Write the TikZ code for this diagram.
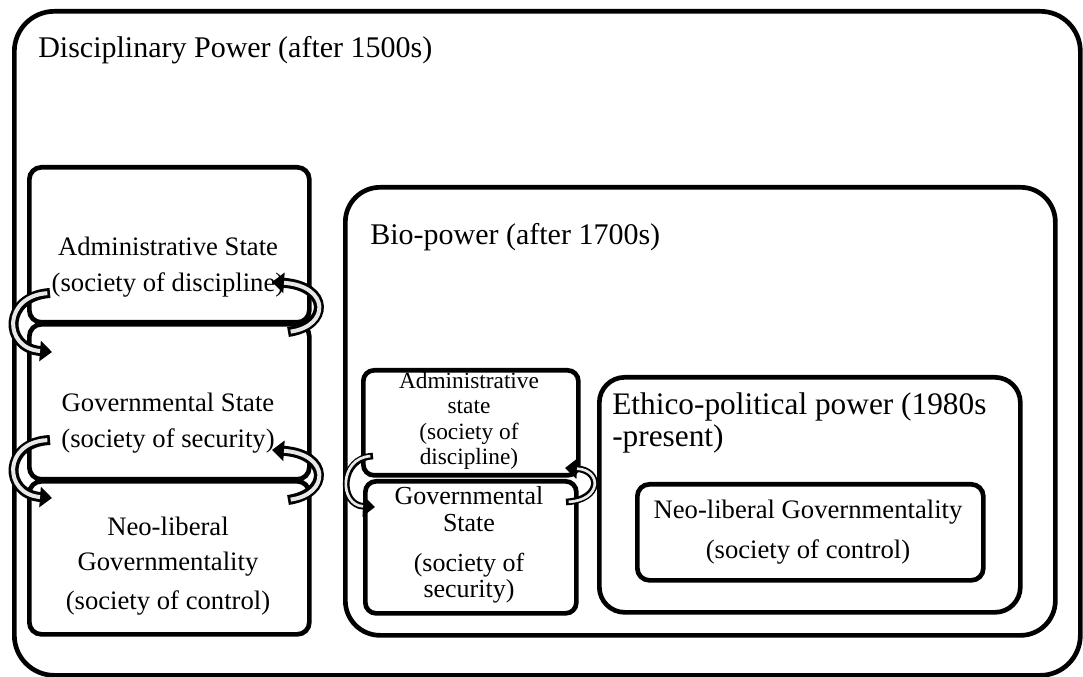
\documentclass[tikz,border=0pt]{standalone}
\usepackage{fontspec}
\setmainfont{Liberation Serif}
\usetikzlibrary{arrows.meta}
\tikzset{
  roundbox/.style={draw, line width=3.5pt, rounded corners=#1, inner sep=0pt, anchor=north west},
  lbl/.style={font=\fontsize{20}{20.5}\selectfont, align=center, inner sep=0pt},
  headlbl/.style={font=\fontsize{22.5}{24}\selectfont, align=left, inner sep=0pt, anchor=west},
  cyclearrow/.style={line width=#1, -{Triangle[length=9pt,width=15pt]},
    postaction={draw=white!82!gray, line width=0.4*#1, -, shorten >=9pt, shorten <=2pt}},
  cyclearrow/.default=7.5pt,
}
\begin{document}
\begin{tikzpicture}[x=0.75pt, y=-0.75pt]
  \useasboundingbox (0,0) rectangle (1083,677);
  % outer frame
  \node[roundbox=30pt, minimum width=799.5pt, minimum height=498pt] (disc) at (12,9) {};
  \node[headlbl] (discT) at (38,50) {Disciplinary Power (after 1500s)};
  % left stack of three states
  \node[roundbox=9pt, minimum width=210pt, minimum height=116.25pt] (admA) at (27,165) {};
  \node[roundbox=9pt, minimum width=210pt, minimum height=116.25pt] (govA) at (27,322) {};
  \node[roundbox=9pt, minimum width=210pt, minimum height=114.75pt] (neoA) at (27,479) {};
  \node[lbl] (admAT) at (168,267) {Administrative State\\[6pt](society of discipline)};
  \node[lbl] (govAT) at (168,423) {Governmental State\\[6pt](society of security)};
  \node[lbl] (neoAT) at (168,566) {Neo-liberal\\[6pt]Governmentality\\[9pt](society of control)};
  % bio-power
  \node[roundbox=26pt, minimum width=532.5pt, minimum height=336pt] (bio) at (343,185) {};
  \node[headlbl] (bioT) at (370,237) {Bio-power (after 1700s)};
  \node[roundbox=8pt, minimum width=161.25pt, minimum height=78.75pt] (admB) at (361,368) {};
  \node[roundbox=8pt, minimum width=158.25pt, minimum height=99pt] (govB) at (363,479) {};
  \node[lbl, font=\fontsize{17.5}{19}\selectfont] (admBT) at (469,421) {Administrative\\state\\(society of\\discipline)};
  \node[lbl, font=\fontsize{19.5}{20}\selectfont] (govBT) at (469,545) {Governmental\\State\\[10pt](society of\\security)};
  % ethico-political power
  \node[roundbox=19pt, minimum width=315.75pt, minimum height=176.25pt] (eth) at (597,375) {};
  \node[headlbl, font=\fontsize{23.5}{23.5}\selectfont] (ethT) at (612,423) {Ethico-political power (1980s\\-present)};
  \node[roundbox=9pt, minimum width=259.5pt, minimum height=72pt] (neoB) at (635,482) {};
  \node[lbl] (neoBT) at (808,532) {Neo-liberal Governmentality\\[9pt](society of control)};
  % cycle arrows
  \coordinate (admA-l) at (50,293);  \coordinate (govA-l) at (52,352);
  \coordinate (govA-r) at (288,332); \coordinate (admA-r) at (272,282);
  \coordinate (govA-l2) at (50,440); \coordinate (neoA-l) at (52,498);
  \coordinate (neoA-r) at (288,500); \coordinate (govA-r2) at (272,450);
  \coordinate (admB-l) at (373,456); \coordinate (govB-l) at (375,507);
  \coordinate (govB-r) at (566,502); \coordinate (admB-r) at (565,468);
  \draw[cyclearrow] (admA-l) .. controls (3,296) and (3,348) .. (govA-l);
  \draw[cyclearrow] (govA-r) .. controls (330,326) and (330,286) .. (admA-r);
  \draw[cyclearrow] (govA-l2) .. controls (3,442) and (3,494) .. (neoA-l);
  \draw[cyclearrow] (neoA-r) .. controls (330,494) and (330,454) .. (govA-r2);
  \draw[cyclearrow=5pt] (admB-l) .. controls (339,458) and (339,505) .. (govB-l);
  \draw[cyclearrow=5pt] (govB-r) .. controls (602,500) and (602,470) .. (admB-r);
\end{tikzpicture}
\end{document}
